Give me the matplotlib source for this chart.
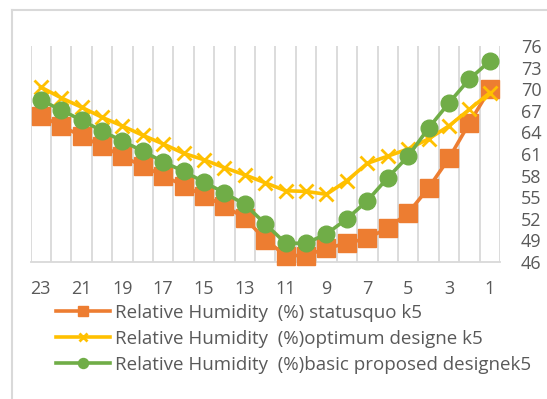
import matplotlib
matplotlib.use("Agg")
import matplotlib.pyplot as plt
from matplotlib.lines import Line2D

categories = [str(h) for h in range(23, 0, -1)]
statusquo = [66.3, 64.9, 63.5, 62.1, 60.7, 59.3, 58.0, 56.6, 55.2, 53.8, 52.1, 49.1,
             46.9, 46.9, 47.9, 48.6, 49.3, 50.7, 52.8, 56.3, 60.4, 65.3, 70.0]
optimum = [70.3, 68.8, 67.5, 66.1, 64.9, 63.6, 62.4, 61.1, 60.2, 59.1, 58.1, 57.0,
           55.9, 55.8, 55.4, 57.3, 59.7, 60.7, 61.7, 63.1, 64.9, 67.2, 69.5]
basic = [68.5, 67.1, 65.7, 64.2, 62.8, 61.4, 59.9, 58.6, 57.1, 55.6, 54.0, 51.3,
         48.6, 48.6, 49.9, 52.0, 54.5, 57.7, 60.7, 64.6, 68.1, 71.4, 73.9]
yticks = [46, 49, 52, 55, 58, 61, 64, 67, 70, 73, 76]
labels = ["Relative Humidity  (%) statusquo k5",
          "Relative Humidity  (%)optimum designe k5",
          "Relative Humidity  (%)basic proposed designek5"]

plt.rcParams['font.family'] = ['Open Sans', 'DejaVu Sans']

W, H = 547, 399
fig = plt.figure(figsize=(W / 100, H / 100), dpi=100)
ax = fig.add_axes([30.5 / W, 1 - 262 / H, (500 - 30.5) / W, (262 - 46) / H])

x = list(range(len(categories)))
ax.plot(x, statusquo, color="#ED7D31", lw=2.6, marker="s", ms=12.5, zorder=3,
        clip_on=False, label=labels[0])
ax.plot(x, optimum, color="#FFC000", lw=2.6, marker="x", ms=10, mew=2.0, zorder=4,
        clip_on=False, label=labels[1])
ax.plot(x, basic, color="#70AD47", lw=2.6, marker="o", ms=12, zorder=5,
        clip_on=False, label=labels[2])

ax.set_xlim(-0.5, len(categories) - 0.5)
ax.set_ylim(46, 76)
ax.set_yticks(yticks)
ax.yaxis.tick_right()
ax.tick_params(axis="y", length=0, pad=15, labelsize=13, labelcolor="#595959")
ax.set_xticks(x[::2])
ax.set_xticklabels(categories[::2])
ax.tick_params(axis="x", length=0, pad=13, labelsize=13, labelcolor="#595959")
for b in [i - 0.5 for i in range(len(categories) + 1)]:
    ax.axvline(b, color="#d9d9d9", lw=1.3, zorder=1)
for s in ["top", "left", "right"]:
    ax.spines[s].set_visible(False)
ax.spines["bottom"].set_color("#d9d9d9")
ax.spines["bottom"].set_linewidth(1.3)

leg = fig.legend(loc="upper left", bbox_to_anchor=(56 / W, 1 - 304 / H), frameon=False,
                 fontsize=13.5, handlelength=2.9, handletextpad=0.25, labelspacing=0.42,
                 borderpad=0, borderaxespad=0, markerscale=0.6, labelcolor="#595959")

# chart area border
fig.add_artist(Line2D([12 / W, 12 / W], [0, 1 - 10 / H], color="#d9d9d9", lw=1.5,
                      transform=fig.transFigure))
fig.add_artist(Line2D([12 / W, 1], [1 - 10 / H, 1 - 10 / H], color="#d9d9d9", lw=1.5,
                      transform=fig.transFigure))

fig.savefig("out.png", dpi=100)
